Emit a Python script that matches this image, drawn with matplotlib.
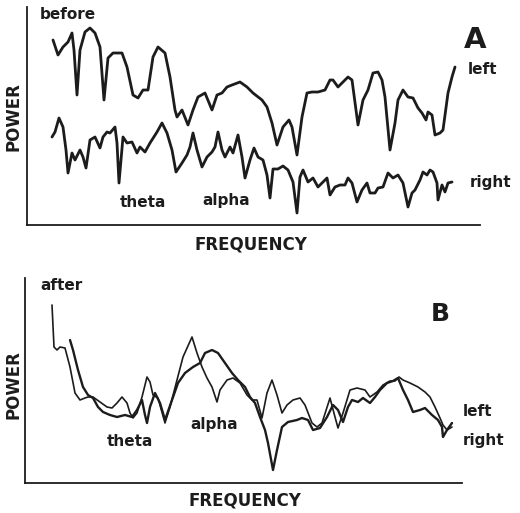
import matplotlib
matplotlib.use("Agg")
import matplotlib.pyplot as plt

# Panel A: power spectra before treatment (frequency in arbitrary units)
freq_a_left = [53, 58, 63, 68, 72, 74, 77, 80, 85, 90, 95, 100, 104, 108, 113, 122, 127, 133, 138, 143,
               148, 153, 158, 165, 170, 175, 177, 182, 188, 193, 198, 205, 212, 217, 222, 227, 232, 240,
               247, 253, 262, 267, 272, 277, 283, 289, 292, 297, 302, 307, 312, 318, 325, 330, 333, 338,
               343, 348, 352, 358, 363, 368, 373, 378, 382, 385, 390, 395, 398, 403, 408, 413, 418, 422,
               426, 428, 432, 435, 440, 443, 448, 452, 455]
power_a_left = [185, 170, 178, 183, 192, 175, 130, 175, 193, 197, 192, 178, 125, 167, 172, 172, 158, 130,
                127, 135, 135, 168, 178, 172, 148, 115, 108, 115, 100, 115, 128, 132, 115, 130, 132, 138,
                140, 143, 138, 132, 125, 118, 102, 80, 98, 105, 98, 70, 108, 132, 133, 133, 135, 145, 145,
                138, 143, 148, 145, 100, 125, 135, 152, 153, 145, 128, 75, 102, 125, 135, 128, 127, 117,
                112, 105, 113, 110, 90, 92, 95, 132, 148, 158]

freq_a_right = [52, 55, 59, 63, 66, 68, 72, 75, 80, 83, 86, 90, 95, 100, 103, 107, 110, 115, 117, 119, 123,
                127, 132, 137, 140, 145, 150, 157, 162, 167, 172, 176, 182, 187, 190, 193, 197, 202, 207,
                212, 215, 218, 222, 225, 230, 233, 238, 242, 245, 250, 254, 258, 263, 267, 270, 273, 278,
                283, 288, 293, 297, 300, 303, 308, 313, 318, 323, 327, 330, 335, 340, 345, 348, 352, 357,
                362, 367, 370, 375, 378, 383, 388, 393, 398, 403, 408, 412, 415, 420, 423, 427, 430, 433,
                437, 438, 442, 445, 448, 452]
power_a_right = [88, 93, 107, 98, 75, 52, 72, 65, 75, 68, 57, 85, 88, 77, 88, 93, 92, 98, 82, 42, 88, 82,
                 83, 72, 78, 73, 82, 93, 102, 92, 75, 53, 62, 70, 78, 92, 75, 58, 68, 73, 78, 93, 75, 68,
                 78, 72, 90, 68, 47, 65, 77, 68, 65, 50, 27, 56, 56, 59, 55, 43, 12, 48, 55, 43, 47, 38,
                 43, 47, 30, 38, 40, 40, 47, 42, 23, 35, 42, 32, 32, 37, 38, 52, 47, 50, 42, 18, 32, 35,
                 45, 53, 50, 55, 53, 42, 25, 40, 33, 42, 43]

# Panel B: power spectra after treatment
freq_b_1 = [52, 54, 57, 60, 65, 70, 75, 80, 85, 88, 93, 100, 107, 112, 117, 122, 127, 130, 133, 137, 142,
            147, 150, 153, 158, 165, 170, 177, 183, 192, 197, 202, 207, 212, 217, 220, 227, 233, 240, 247,
            252, 257, 262, 267, 272, 277, 282, 287, 293, 300, 305, 312, 317, 322, 330, 335, 338, 343, 350,
            357, 365, 370, 377, 383, 390, 395, 399, 403, 410, 418, 425, 430, 435, 440, 443, 447, 452]
power_b_1 = [178, 136, 133, 136, 135, 116, 90, 83, 85, 86, 86, 81, 76, 75, 80, 86, 80, 70, 65, 70, 86,
             106, 101, 88, 85, 60, 76, 103, 126, 146, 130, 116, 105, 96, 81, 93, 103, 105, 100, 88, 83,
             83, 65, 90, 103, 88, 70, 78, 83, 85, 78, 60, 56, 60, 85, 66, 55, 70, 93, 95, 93, 86, 91,
             98, 102, 102, 106, 103, 100, 96, 91, 86, 76, 65, 58, 53, 56]

freq_b_2 = [70, 73, 78, 83, 88, 93, 98, 103, 110, 117, 125, 132, 137, 142, 145, 147, 150, 155, 160, 165,
            172, 178, 185, 193, 200, 205, 212, 218, 225, 232, 238, 245, 250, 255, 260, 265, 268, 273, 277,
            282, 288, 297, 302, 308, 313, 320, 327, 333, 338, 343, 348, 352, 358, 363, 370, 375, 380, 387,
            393, 398, 403, 408, 413, 420, 425, 432, 438, 442, 443, 447, 452]
power_b_2 = [143, 133, 113, 96, 88, 85, 76, 71, 68, 66, 68, 66, 73, 83, 68, 60, 76, 90, 80, 63, 83, 100,
             110, 116, 120, 130, 133, 130, 120, 110, 103, 96, 86, 80, 66, 53, 40, 13, 33, 56, 61, 63, 65,
             63, 53, 55, 66, 78, 73, 61, 76, 83, 81, 85, 80, 86, 93, 100, 102, 105, 93, 83, 71, 73, 75,
             68, 63, 56, 46, 53, 60]

W, H = 520, 513
INK = "#1c1c1c"
fig = plt.figure(figsize=(W / 100, H / 100), dpi=100)
fig.patch.set_facecolor("white")


def px_axes(x0, y0, x1, y1):
    return fig.add_axes([x0 / W, 1 - y1 / H, (x1 - x0) / W, (y1 - y0) / H])


def style(ax):
    for s in ("top", "right"):
        ax.spines[s].set_visible(False)
    for s in ("left", "bottom"):
        ax.spines[s].set_color(INK)
        ax.spines[s].set_linewidth(1.3)
    ax.set_xticks([])
    ax.set_yticks([])
    ax.patch.set_alpha(0)


def label(x, y, s, size=10, **kw):
    fig.text(x / W, 1 - y / H, s, fontsize=size, fontweight="bold", color=INK,
             family="DejaVu Sans", va="center", **kw)


line_kw = dict(color=INK, solid_joinstyle="round", solid_capstyle="round")

axA = px_axes(27, 7, 480, 225)
style(axA)
axA.set_xlim(27, 480)
axA.set_ylim(0, 218)
axA.plot(freq_a_left, power_a_left, lw=2.0, **line_kw)
axA.plot(freq_a_right, power_a_right, lw=2.0, **line_kw)

axB = px_axes(25, 278, 462, 483)
style(axB)
axB.set_xlim(25, 462)
axB.set_ylim(0, 205)
axB.plot(freq_b_1, power_b_1, lw=1.2, **line_kw)
axB.plot(freq_b_2, power_b_2, lw=1.7, **line_kw)

# Panel A text
label(40, 15, "before", 11)
label(464, 40, "A", 21)
label(468, 70, "left", 11)
label(470, 183, "right", 11)
label(120, 203, "theta", 11)
label(202, 200, "alpha", 11)
label(13, 117, "POWER", 12, rotation=90, ha="center")
label(251, 244, "FREQUENCY", 12, ha="center")

# Panel B text
label(40, 286, "after", 11)
label(431, 314, "B", 18)
label(463, 412, "left", 11)
label(463, 440, "right", 11)
label(107, 441, "theta", 11)
label(190, 425, "alpha", 11)
label(13, 385, "POWER", 12, rotation=90, ha="center")
label(245, 501, "FREQUENCY", 12, ha="center")

fig.savefig("out.png", dpi=100, facecolor="white")
